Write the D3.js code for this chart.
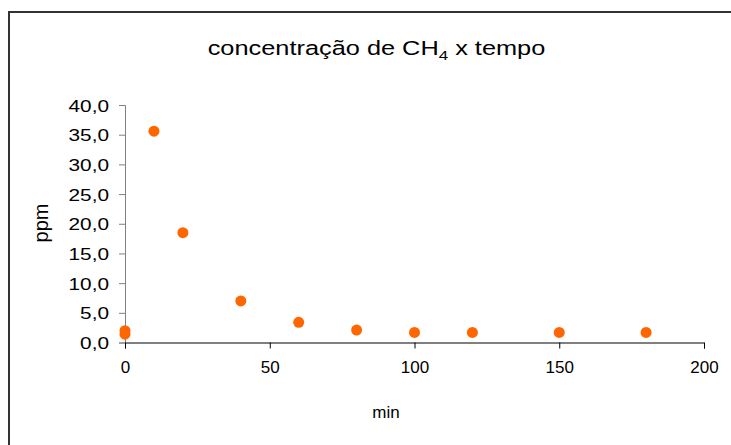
<!DOCTYPE html>
<html><head><meta charset="utf-8">
<script src="https://cdn.jsdelivr.net/npm/d3@7"></script>
<style>body{margin:0;background:#fff}svg{display:block}text{font-family:"Liberation Sans",Arial,sans-serif;fill:#000}</style>
</head><body>
<script>
const minutes = [0, 0, 10, 20, 40, 60, 80, 100, 120, 150, 180];
const ppm = [2.0, 1.4, 35.6, 18.5, 7.0, 3.4, 2.1, 1.7, 1.7, 1.7, 1.7];
const xTicks = [0, 50, 100, 150, 200];
const yTicks = [0, 5, 10, 15, 20, 25, 30, 35, 40];

const W = 731, H = 445;
const svg = d3.select("body").append("svg").attr("width", W).attr("height", H);
svg.append("rect").attr("x", 9).attr("y", 12).attr("width", 760).attr("height", 460)
  .attr("fill", "none").attr("stroke", "#333").attr("stroke-width", 2);

const x = d3.scaleLinear().domain([0, 200]).range([125, 704]);
const y = d3.scaleLinear().domain([0, 40]).range([342.5, 105]);
const fmt = d => d3.format(".1f")(d).replace(".", ",");

const yAxis = svg.append("g").attr("transform", "translate(125,0)")
  .call(d3.axisLeft(y).tickValues(yTicks).tickFormat(fmt).tickSize(6).tickPadding(10));
yAxis.attr("font-family", null);
yAxis.select(".domain").attr("stroke", "#808080");
yAxis.selectAll(".tick line").attr("stroke", "#808080");
yAxis.selectAll("text").attr("font-size", 16).attr("fill", "#000").attr("text-anchor", "end")
  .attr("x", 0).attr("transform", "translate(-16,1) scale(1.3,1)");

const xAxis = svg.append("g").attr("transform", "translate(0,342.5)")
  .call(d3.axisBottom(x).tickValues(xTicks).tickFormat(d3.format("d")).tickSize(6).tickPadding(12));
xAxis.attr("font-family", null);
xAxis.select(".domain").attr("stroke", "#000");
xAxis.selectAll(".tick line").attr("stroke", "#000");
xAxis.selectAll("text").attr("font-size", 17).attr("fill", "#000");

svg.append("g").selectAll("circle").data(minutes.map((m, i) => [m, ppm[i]])).join("circle")
  .attr("cx", d => x(d[0])).attr("cy", d => y(d[1])).attr("r", 5.5).attr("fill", "#ff6600");

const t = svg.append("text").attr("transform", "translate(376.5,55) scale(1.3,1)")
  .attr("text-anchor", "middle").attr("font-size", 19.5);
t.append("tspan").text("concentração de CH");
t.append("tspan").text("4").attr("font-size", 13).attr("dy", 5);
t.append("tspan").text(" x tempo").attr("dy", -5);

svg.append("text").attr("transform", "translate(48,223) rotate(-90)").attr("text-anchor", "middle")
  .attr("font-size", 20).text("ppm");
svg.append("text").attr("x", 386).attr("y", 418).attr("text-anchor", "middle")
  .attr("font-size", 17).text("min");
</script>
</body></html>
